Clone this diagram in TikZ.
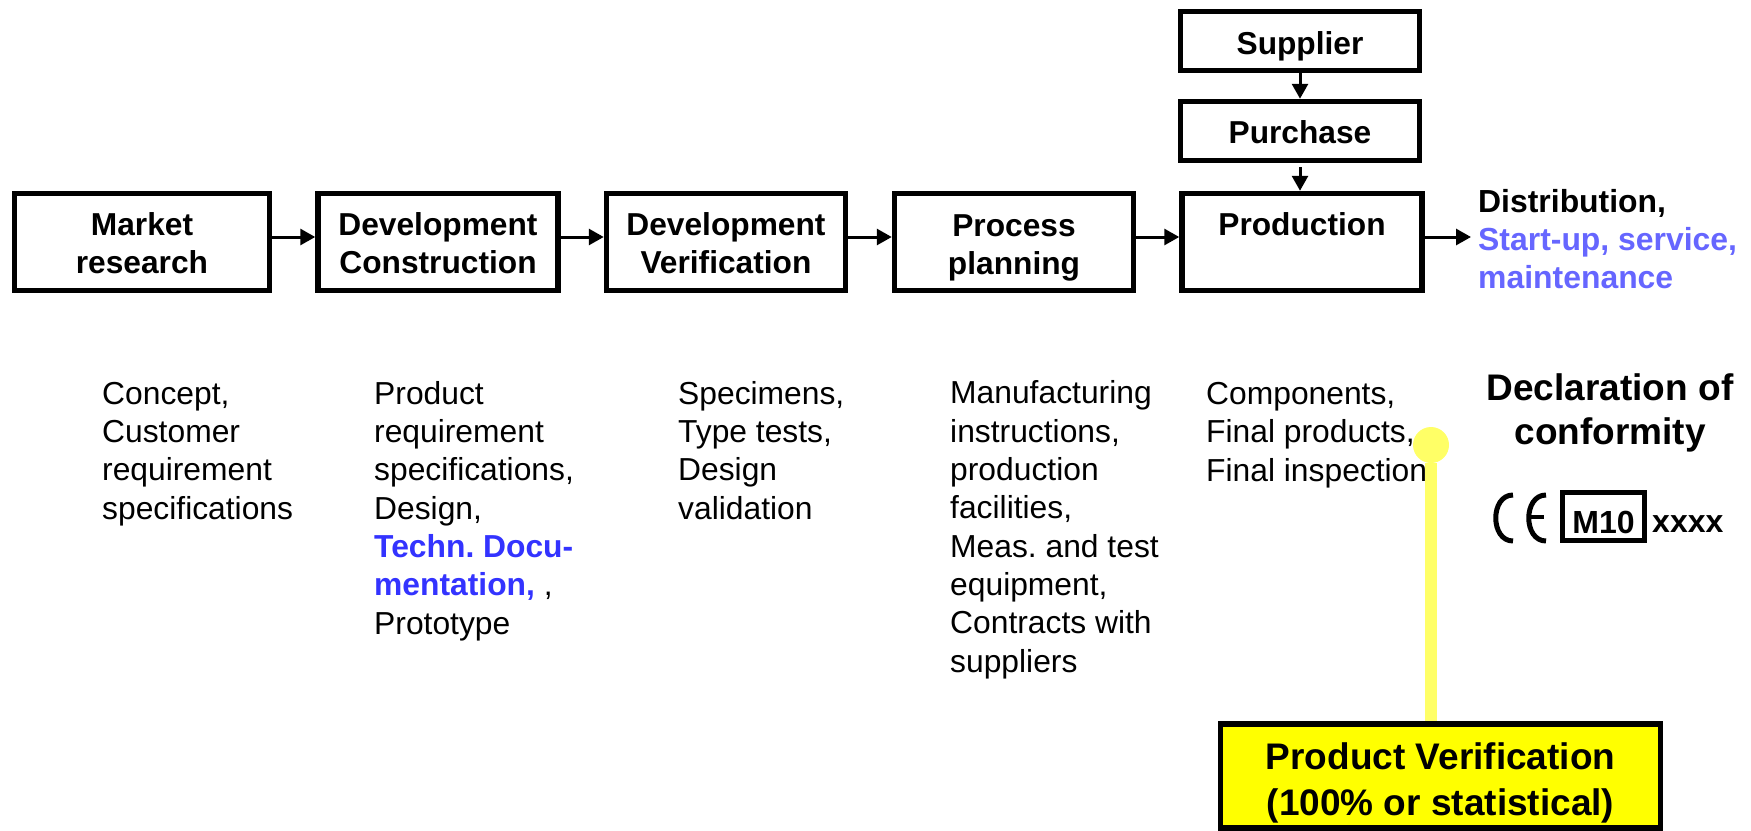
\documentclass[tikz,border=0pt]{standalone}
\usepackage{fontspec}
\setmainfont{Liberation Sans}
\usepackage{tikz}
\usetikzlibrary{arrows.meta,positioning}
\definecolor{probeyellow}{HTML}{FFFF66}
\definecolor{verifyellow}{RGB}{255,255,0}
\definecolor{docblue}{HTML}{3333FF}
\definecolor{serviceblue}{HTML}{6666FF}
\tikzset{
  stagebox/.style={rectangle, draw, line width=5.5pt, inner sep=0pt, minimum width=255pt, minimum height=97pt, align=center, font=\fontsize{31.7}{38}\selectfont\bfseries},
  sourcebox/.style={stagebox, minimum width=239pt, minimum height=59pt},
  flow/.style={-{Triangle[length=15pt,width=16pt]}, line width=3pt},
  notes/.style={anchor=base west, inner sep=0pt, align=left, font=\fontsize{31.8}{38.3}\selectfont},
}
\begin{document}
\frenchspacing
\begin{tikzpicture}[x=1pt,y=-1pt]
\useasboundingbox (0,0) rectangle (1751,830);
\node[stagebox] (market) at (142,242){\rule{0pt}{25pt}Market\\research};
\node[stagebox, minimum width=240pt] (devcon) at (438,242){\rule{0pt}{25pt}Development\\Construction};
\node[stagebox, minimum width=239pt] (devver) at (726,242){\rule{0pt}{25pt}Development\\Verification};
\node[stagebox, minimum width=239pt] (process) at (1014,242){\rule{0pt}{26pt}Process\\\smash{planning}};
\node[stagebox, minimum width=240pt] (production) at (1302,242){\rule{0pt}{25pt}Production\\~};
\node[sourcebox] (supplier) at (1300,41){\rule{0pt}{33pt}Supplier};
\node[sourcebox] (purchase) at (1300,131){\rule{0pt}{25pt}Purchase};
\coordinate (out) at (1471,237);
\draw[flow] ([yshift=5pt]market.east) -- ([yshift=5pt]devcon.west);
\draw[flow] ([yshift=5pt]devcon.east) -- ([yshift=5pt]devver.west);
\draw[flow] ([yshift=5pt]devver.east) -- ([yshift=5pt]process.west);
\draw[flow] ([yshift=5pt]process.east) -- ([yshift=5pt]production.west);
\draw[flow] ([yshift=5pt]production.east) -- (out);
\draw[flow] (supplier.south) -- (purchase.north);
\draw[flow] ([yshift=-4pt]purchase.south) -- (purchase.south |- production.north);
\node[anchor=base west, inner sep=0pt, align=left, font=\fontsize{31.9}{38}\selectfont\bfseries] (distribution) at (1478,288){Distribution,\\\textcolor{serviceblue}{Start-up, service,}\\\textcolor{serviceblue}{maintenance}};
\node[rectangle, draw, line width=5.5pt, fill=verifyellow, inner sep=0pt, minimum width=440pt, minimum height=104pt, align=center, font=\fontsize{37}{46}\selectfont\bfseries] (verification) at (1440.5,776){\rule{0pt}{40pt}Product Verification\\(100\% or statistical)};
\node[circle, fill=probeyellow, inner sep=0pt, minimum width=36pt] (probe) at (1431,445){};
\draw[probeyellow, line width=12pt] (probe) -- (probe |- verification.north);
\node[notes] (concept) at (102,519){Concept,\\Customer\\requirement\\specifications};
\node[notes] (product) at (374,634){Product\\requirement\\specifications,\\Design,\\\textcolor{docblue}{\bfseries Techn. Docu-}\\\textcolor{docblue}{\bfseries mentation,} ,\\Prototype};
\node[notes] (specimens) at (678,519){Specimens,\\Type tests,\\Design\\validation};
\node[notes] (manufacturing) at (950,672){Manufacturing\\instructions,\\production\\facilities,\\Meas. and test\\equipment,\\Contracts with\\suppliers};
\node[notes] (components) at (1206,481){Components,\\Final products,\\Final inspection};
\node[anchor=base, inner sep=0pt, align=center, font=\fontsize{37}{44}\selectfont\bfseries] (declaration) at (1610,444.5){Declaration of\\conformity};
\draw[line width=5pt] (1513,495) .. controls (1490,495) and (1490,541) .. (1513,541);
\draw[line width=5pt] (1546,495) .. controls (1523,495) and (1523,541) .. (1546,541);
\draw[line width=4pt] (1529,517) -- (1544,517);
\node[rectangle, draw, line width=5pt, inner sep=0pt, minimum width=82pt, minimum height=48pt, text height=33pt, text depth=0pt, font=\fontsize{32}{38}\selectfont\bfseries] (mark) at (1603.5,516.5){M10};
\node[right=5pt of mark.east, yshift=-8pt, inner sep=0pt, font=\fontsize{32}{38}\selectfont\bfseries] (number) {xxxx};
\end{tikzpicture}
\end{document}
